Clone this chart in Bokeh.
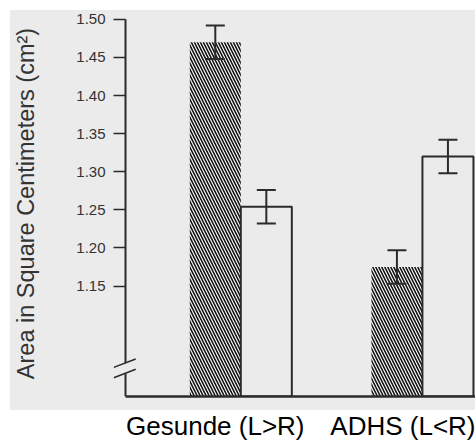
from bokeh.plotting import figure
from bokeh.models import (Range1d, FixedTicker, Whisker, ColumnDataSource,
                          TeeHead, PrintfTickFormatter)
from bokeh.embed import file_html
from bokeh.resources import INLINE

# Mean planum temporale area per hemisphere group, with error
CATEGORIES = ["Gesunde (L>R)", "ADHS (L<R)"]
LEFT_AREA = [1.470, 1.175]    # hatched bars
RIGHT_AREA = [1.254, 1.320]   # open bars
LEFT_ERR = [0.022, 0.022]
RIGHT_ERR = [0.022, 0.022]
Y_TICKS = [1.15, 1.20, 1.25, 1.30, 1.35, 1.40, 1.45, 1.50]

# layout of the groups along x
GROUP_X = [0.0, 1.78]
LABEL_X = [-0.25, 1.61]
BAR_W = 0.5
AXIS_X = -1.13         # where the value axis line stands
BASE = 1.005           # baseline below the axis break
BREAK_Y = [1.0352, 1.0487]
Y_TOP = 1.50

BG = "#ebebeb"
INK = "#2b2b2b"
FONT = "Liberation Sans"

p = figure(width=475, height=443, output_backend="svg", toolbar_location=None,
           x_range=Range1d(-1.2476, 2.30), y_range=Range1d(BASE, 1.5116),
           min_border_left=113, min_border_right=0, min_border_top=10,
           min_border_bottom=39, background_fill_color=BG,
           border_fill_alpha=0, outline_line_color=None)
# gray paper behind the whole chart area, white below it
p.styles = {"background": "linear-gradient(#ebebeb, #ebebeb) 10px 10px / 465px 400px no-repeat, #ffffff"}
p.xgrid.visible = False
p.ygrid.visible = False

left_x = [g - BAR_W / 2 for g in GROUP_X]
right_x = [g + BAR_W / 2 for g in GROUP_X]

p.vbar(x=left_x, top=LEFT_AREA, bottom=BASE, width=BAR_W, fill_color="white",
       line_color=None, hatch_pattern="\\", hatch_color="#111111",
       hatch_scale=6, hatch_weight=1.6)
p.vbar(x=right_x, top=RIGHT_AREA, bottom=BASE, width=BAR_W, fill_color=None,
       line_color=INK, line_width=2)

xs = left_x + right_x
tops = LEFT_AREA + RIGHT_AREA
errs = LEFT_ERR + RIGHT_ERR
src = ColumnDataSource(dict(x=xs,
                            upper=[t + e for t, e in zip(tops, errs)],
                            lower=[t - e for t, e in zip(tops, errs)]))
p.add_layout(Whisker(base="x", upper="upper", lower="lower", source=src,
                     line_color=INK, line_width=2, level="overlay",
                     upper_head=TeeHead(size=19, line_color=INK, line_width=2),
                     lower_head=TeeHead(size=19, line_color=INK, line_width=2)))

# y axis: ticks reach in from the frame edge to the axis line
ya = p.yaxis[0]
ya.ticker = FixedTicker(ticks=Y_TICKS)
ya.formatter = PrintfTickFormatter(format="%.2f")
ya.major_tick_out = 0
ya.major_tick_in = 12
ya.minor_tick_line_color = None
ya.major_tick_line_color = INK
ya.major_tick_line_width = 1.5
ya.axis_line_color = None
ya.major_label_standoff = 8
ya.major_label_text_font = FONT
ya.major_label_text_font_size = "15px"
ya.major_label_text_color = "#333333"
ya.axis_label = "Area in Square Centimeters (cm²)"
ya.axis_label_text_font = FONT
ya.axis_label_text_font_size = "23.5px"
ya.axis_label_text_font_style = "normal"
ya.axis_label_text_color = "#333333"
ya.axis_label_standoff = 34

# the value axis line, interrupted by the break marks
p.segment(x0=[AXIS_X, AXIS_X], y0=[BREAK_Y[1], BASE],
          x1=[AXIS_X, AXIS_X], y1=[Y_TOP, BREAK_Y[0]],
          line_color=INK, line_width=2)
p.segment(x0=[AXIS_X - 0.115] * 2, y0=[b - 0.0055 for b in BREAK_Y],
          x1=[AXIS_X + 0.10] * 2, y1=[b + 0.0055 for b in BREAK_Y],
          line_color=INK, line_width=1.5)

# x axis: baseline with group names
xa = p.xaxis[0]
xa.bounds = (AXIS_X, 2.30)
xa.ticker = FixedTicker(ticks=LABEL_X)
xa.major_label_overrides = {LABEL_X[i]: CATEGORIES[i] for i in range(len(CATEGORIES))}
xa.major_tick_out = 0
xa.major_tick_in = 0
xa.minor_tick_line_color = None
xa.axis_line_color = INK
xa.axis_line_width = 2.5
xa.major_label_standoff = 14
xa.major_label_text_font = FONT
xa.major_label_text_font_size = "26px"
xa.major_label_text_color = "black"

open("out.html", "w").write(file_html(p, INLINE))
